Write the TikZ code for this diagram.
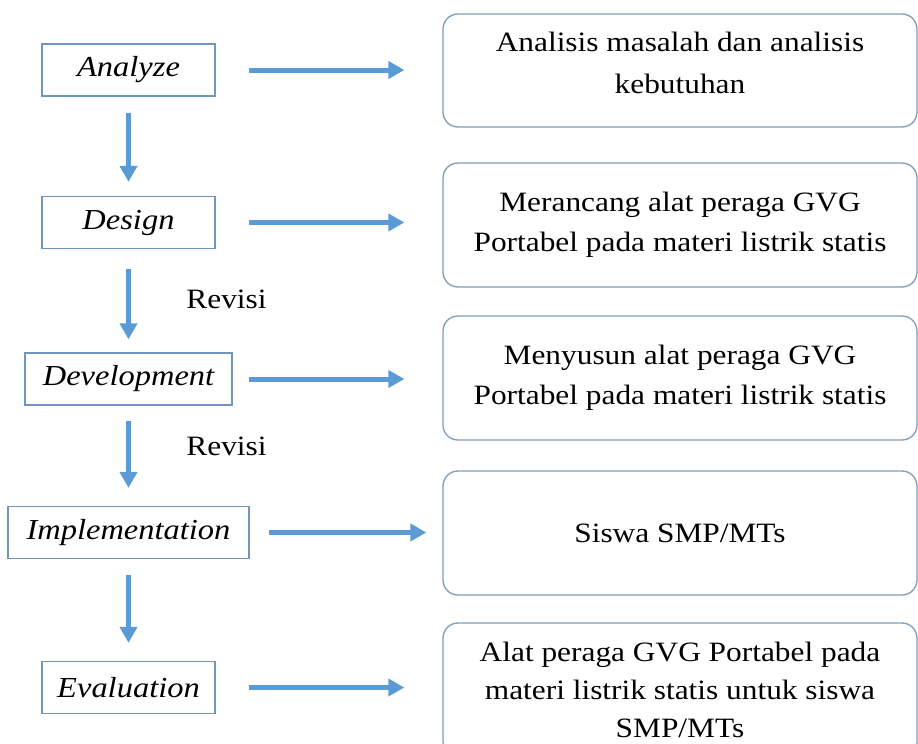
\documentclass[tikz,border=0pt]{standalone}
\usepackage{fontspec}
\setmainfont[FakeStretch=1.12]{Liberation Serif}
\usetikzlibrary{arrows.meta}
\definecolor{arrowblue}{HTML}{5B9BD5}
\definecolor{lborder}{HTML}{7096BE}
\definecolor{rborder}{HTML}{809DB8}
\tikzset{
  lbox/.style={draw=lborder, line width=1.3pt, fill=white, inner sep=0pt,
    minimum height=52pt, font=\fontsize{29}{36}\selectfont\itshape},
  rbox/.style={draw=rborder, line width=1.3pt, fill=white, rounded corners=15pt,
    inner sep=0pt, minimum width=474pt, align=center,
    font=\fontsize{28}{40}\selectfont},
  rtext/.style={inner sep=0pt, align=center, font=\fontsize{28}{42}\selectfont},
  flow/.style={draw=arrowblue, line width=5pt,
    -{Triangle[length=16pt,width=17pt]}},
  lbl/.style={font=\fontsize{28}{34}\selectfont, inner sep=0pt}
}
\begin{document}
\begin{tikzpicture}[x=1pt,y=-1pt]
\useasboundingbox (0,0) rectangle (918,744);
\begin{scope}
\clip (0,0) rectangle (918,744);
% left boxes
\node[lbox, minimum width=173pt] (A) at (128.5,70) {Analyze};
\node[lbox, minimum width=173pt] (D) at (128.5,222.5) {Design};
\node[lbox, minimum width=207pt] (V) at (128.5,379) {Development};
\node[lbox, minimum width=241pt] (I) at (128.5,532.5) {Implementation};
\node[lbox, minimum width=173pt] (E) at (128.5,687.5) {Evaluation};
% right boxes
\node[rbox, minimum height=113pt] (RA) at (680,70.5) {};
\node[rtext] (RAt) at (RA.center) [yshift=8pt] {Analisis masalah dan analisis\\kebutuhan};
\node[rbox, minimum height=124pt] (RD) at (680,225) {Merancang alat peraga GVG\\Portabel pada materi listrik statis};
\node[rbox, minimum height=124pt] (RV) at (680,378) {Menyusun alat peraga GVG\\Portabel pada materi listrik statis};
\node[rbox, minimum height=124pt] (RI) at (680,533) {Siswa SMP/MTs};
\node[rbox, minimum height=134pt, font=\fontsize{28}{38}\selectfont] (RE) at (680,690) {Alat peraga GVG Portabel pada\\materi listrik statis untuk siswa\\SMP/MTs};
% labels
\node[lbl] (r1) at (226.5,299) {Revisi};
\node[lbl] (r2) at (226.5,446) {Revisi};
% vertical arrows
\draw[flow, shorten <=16pt, shorten >=14pt] (A.south) -- (D.north);
\draw[flow, shorten <=20pt, shorten >=13pt] (D.south) -- (V.north);
\draw[flow, shorten <=15pt, shorten >=18pt] (V.south) -- (I.north);
\draw[flow, shorten <=16pt, shorten >=18pt] (I.south) -- (E.north);
% horizontal arrows
\draw[flow, shorten <=33pt, shorten >=38pt] (A.east) -- (A.east -| RA.west);
\draw[flow, shorten <=33pt, shorten >=38pt] (D.east) -- (D.east -| RD.west);
\draw[flow, shorten <=16pt, shorten >=38pt] (V.east) -- (V.east -| RV.west);
\draw[flow, shorten <=19pt, shorten >=16pt] (I.east) -- (I.east -| RI.west);
\draw[flow, shorten <=33pt, shorten >=38pt] (E.east) -- (E.east -| RE.west);
\end{scope}
\end{tikzpicture}
\end{document}
